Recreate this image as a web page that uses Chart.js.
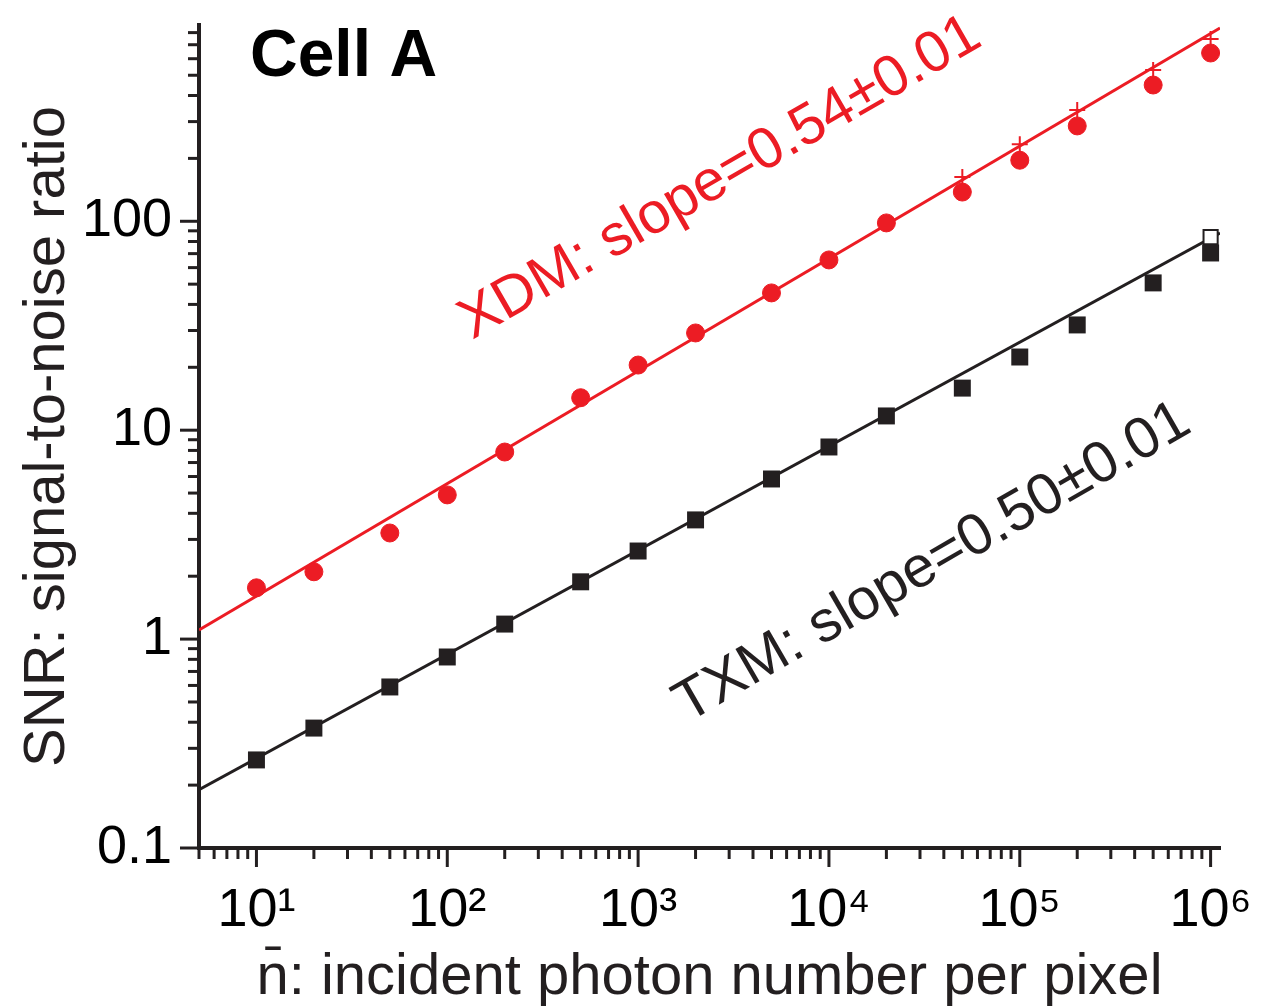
<!DOCTYPE html>
<html>
<head>
<meta charset="utf-8">
<script src="https://cdn.jsdelivr.net/npm/chart.js@4.4.1/dist/chart.umd.min.js"></script>
<style>
  html, body { margin: 0; padding: 0; background: #fff; }
  #wrap { width: 1261px; height: 1007px; }
</style>
</head>
<body>
<div id="wrap"><canvas id="snrChart" width="1261" height="1007"></canvas></div>
<script>
// ================================
// data
// ================================
const photons = [10, 20, 50, 100, 200, 500, 1e3, 2e3, 5e3, 1e4, 2e4, 5e4, 1e5, 2e5, 5e5, 1e6];
const xdmSnr = [1.76, 2.10, 3.22, 4.90, 7.86, 14.3, 20.5, 29.2, 45.4, 65.3, 98.2, 138, 196, 286, 449, 639];
const txmSnr = [0.264, 0.375, 0.590, 0.821, 1.18, 1.88, 2.64, 3.72, 5.84, 8.31, 11.7, 15.9, 22.4, 31.9, 50.7, 70.5];

// extra markers at the high-dose end
const xdmPlusX = [5e4, 1e5, 2e5, 5e5, 1e6];
const xdmPlusSnr = [163, 234, 341, 530, 746];
const txmOpenX = [1e6];
const txmOpenSnr = [84];

// fitted lines (end points)
const fitX = [5, 1.12e6];
const xdmFit = [1.106, 842];
const txmFit = [0.19, 87.9];

// ticks
const xTickValues = [10, 100, 1e3, 1e4, 1e5, 1e6];
const xTickLabels = ["10¹", "10²", "10³", "10⁴", "10⁵", "10⁶"];
const yTickValues = [0.1, 1, 10, 100];
const yTickLabels = ["0.1", "1", "10", "100"];

const RED = "#ec1c24";
const INK = "#231f20";
const FONT = "'Liberation Sans', Arial, Helvetica, sans-serif";

const pts = (xs, ys) => xs.map((x, i) => ({ x: x, y: ys[i] }));

// all decade + sub-decade ticks inside a log range
function logTicks(min, max) {
    const out = [];
    for (let d = Math.floor(Math.log10(min)); d <= Math.ceil(Math.log10(max)); d++) {
        for (let m = 1; m <= 9; m++) {
            const v = m * Math.pow(10, d);
            if (v >= min * 0.999 && v <= max * 1.001) out.push({ v: v, major: m === 1 });
        }
    }
    return out;
}

// outward tick marks, long on decades, short in between
const axisTicks = {
    id: "axisTicks",
    afterDraw(chart) {
        const ctx = chart.ctx;
        const xs = chart.scales.x, ys = chart.scales.y;
        ctx.save();
        ctx.strokeStyle = INK;
        ctx.lineWidth = 3;
        logTicks(xs.min, xs.max).forEach(t => {
            const px = xs.getPixelForValue(t.v);
            ctx.beginPath();
            ctx.moveTo(px, ys.bottom);
            ctx.lineTo(px, ys.bottom + (t.major ? 19 : 11));
            ctx.stroke();
        });
        logTicks(ys.min, ys.max).forEach(t => {
            const py = ys.getPixelForValue(t.v);
            ctx.beginPath();
            ctx.moveTo(xs.left, py);
            ctx.lineTo(xs.left - (t.major ? 19 : 11), py);
            ctx.stroke();
        });
        ctx.restore();
    }
};

// panel title and the two slope labels
const textLabels = {
    id: "textLabels",
    afterDatasetsDraw(chart) {
        const ctx = chart.ctx;
        const xs = chart.scales.x, ys = chart.scales.y;
        ctx.save();
        ctx.textAlign = "left";
        ctx.textBaseline = "alphabetic";

        ctx.fillStyle = "#000";
        ctx.font = "bold 66px " + FONT;
        ctx.fillText("Cell A", chart.chartArea.left + 51, 76);

        const slopeText = (txt, x, y, color) => {
            ctx.save();
            ctx.translate(xs.getPixelForValue(x), ys.getPixelForValue(y));
            ctx.rotate(-30 * Math.PI / 180);
            ctx.fillStyle = color;
            ctx.font = "58px " + FONT;
            ctx.fillText(txt, 0, 0);
            ctx.restore();
        };
        slopeText("XDM: slope=0.54±0.01", 135, 27.0, RED);
        slopeText("TXM: slope=0.50±0.01", 1807, 0.396, INK);
        ctx.restore();
    }
};

function renderChart() {
    const ctx = document.getElementById("snrChart").getContext("2d");

    new Chart(ctx, {
        type: "scatter",
        data: {
            datasets: [
                {
                    label: "XDM fit",
                    data: pts(fitX, xdmFit),
                    showLine: true,
                    borderColor: RED,
                    borderWidth: 3,
                    pointRadius: 0,
                    order: 5
                },
                {
                    label: "TXM fit",
                    data: pts(fitX, txmFit),
                    showLine: true,
                    borderColor: INK,
                    borderWidth: 3,
                    pointRadius: 0,
                    order: 5
                },
                {
                    label: "XDM",
                    data: pts(photons, xdmSnr),
                    pointStyle: "circle",
                    pointRadius: 9,
                    backgroundColor: RED,
                    borderColor: RED,
                    borderWidth: 1,
                    order: 2
                },
                {
                    label: "XDM +",
                    data: pts(xdmPlusX, xdmPlusSnr),
                    pointStyle: "cross",
                    pointRadius: 8,
                    borderColor: RED,
                    borderWidth: 2,
                    order: 1
                },
                {
                    label: "TXM open",
                    data: pts(txmOpenX, txmOpenSnr),
                    pointStyle: "rect",
                    pointRadius: 10,
                    backgroundColor: "#fff",
                    borderColor: INK,
                    borderWidth: 2,
                    order: 4
                },
                {
                    label: "TXM",
                    data: pts(photons, txmSnr),
                    pointStyle: "rect",
                    pointRadius: 12,
                    backgroundColor: INK,
                    borderColor: INK,
                    borderWidth: 0,
                    order: 3
                }
            ]
        },
        options: {
            responsive: false,
            animation: false,
            layout: { padding: { top: 25, right: 41, left: 0, bottom: 0 } },
            plugins: {
                legend: { display: false },
                tooltip: { enabled: false }
            },
            scales: {
                x: {
                    type: "logarithmic",
                    min: 5,
                    max: 1.12e6,
                    afterBuildTicks: s => { s.ticks = xTickValues.map(v => ({ value: v })); },
                    afterFit: s => {
                        s.height = 159;
                        s.paddingLeft = 0; s.paddingRight = 0;
                    },
                    ticks: {
                        autoSkip: false,
                        maxRotation: 0,
                        padding: 12,
                        color: "#000",
                        font: { family: FONT, size: 54 },
                        callback: v => xTickLabels[xTickValues.indexOf(v)]
                    },
                    grid: {
                        display: true,
                        drawOnChartArea: false,
                        drawTicks: true,
                        tickLength: 19,
                        tickColor: "rgba(0,0,0,0)"
                    },
                    border: { display: true, width: 4, color: INK },
                    title: {
                        display: true,
                        text: "n̄: incident photon number per pixel",
                        color: INK,
                        padding: 0,
                        font: { family: FONT, size: 58, lineHeight: 1 }
                    }
                },
                y: {
                    type: "logarithmic",
                    min: 0.1,
                    max: 870,
                    afterBuildTicks: s => { s.ticks = yTickValues.map(v => ({ value: v })); },
                    afterFit: s => {
                        s.width = 199;
                        s.paddingTop = 0; s.paddingBottom = 0;
                    },
                    ticks: {
                        padding: 8,
                        color: "#000",
                        font: { family: FONT, size: 54 },
                        callback: v => yTickLabels[yTickValues.indexOf(v)]
                    },
                    grid: {
                        display: true,
                        drawOnChartArea: false,
                        drawTicks: true,
                        tickLength: 19,
                        tickColor: "rgba(0,0,0,0)"
                    },
                    border: { display: true, width: 4, color: INK },
                    title: {
                        display: true,
                        text: "SNR: signal-to-noise ratio",
                        color: INK,
                        padding: { top: 19 },
                        font: { family: FONT, size: 58, lineHeight: 1 }
                    }
                }
            }
        },
        plugins: [axisTicks, textLabels]
    });
}

renderChart();
</script>
</body>
</html>
